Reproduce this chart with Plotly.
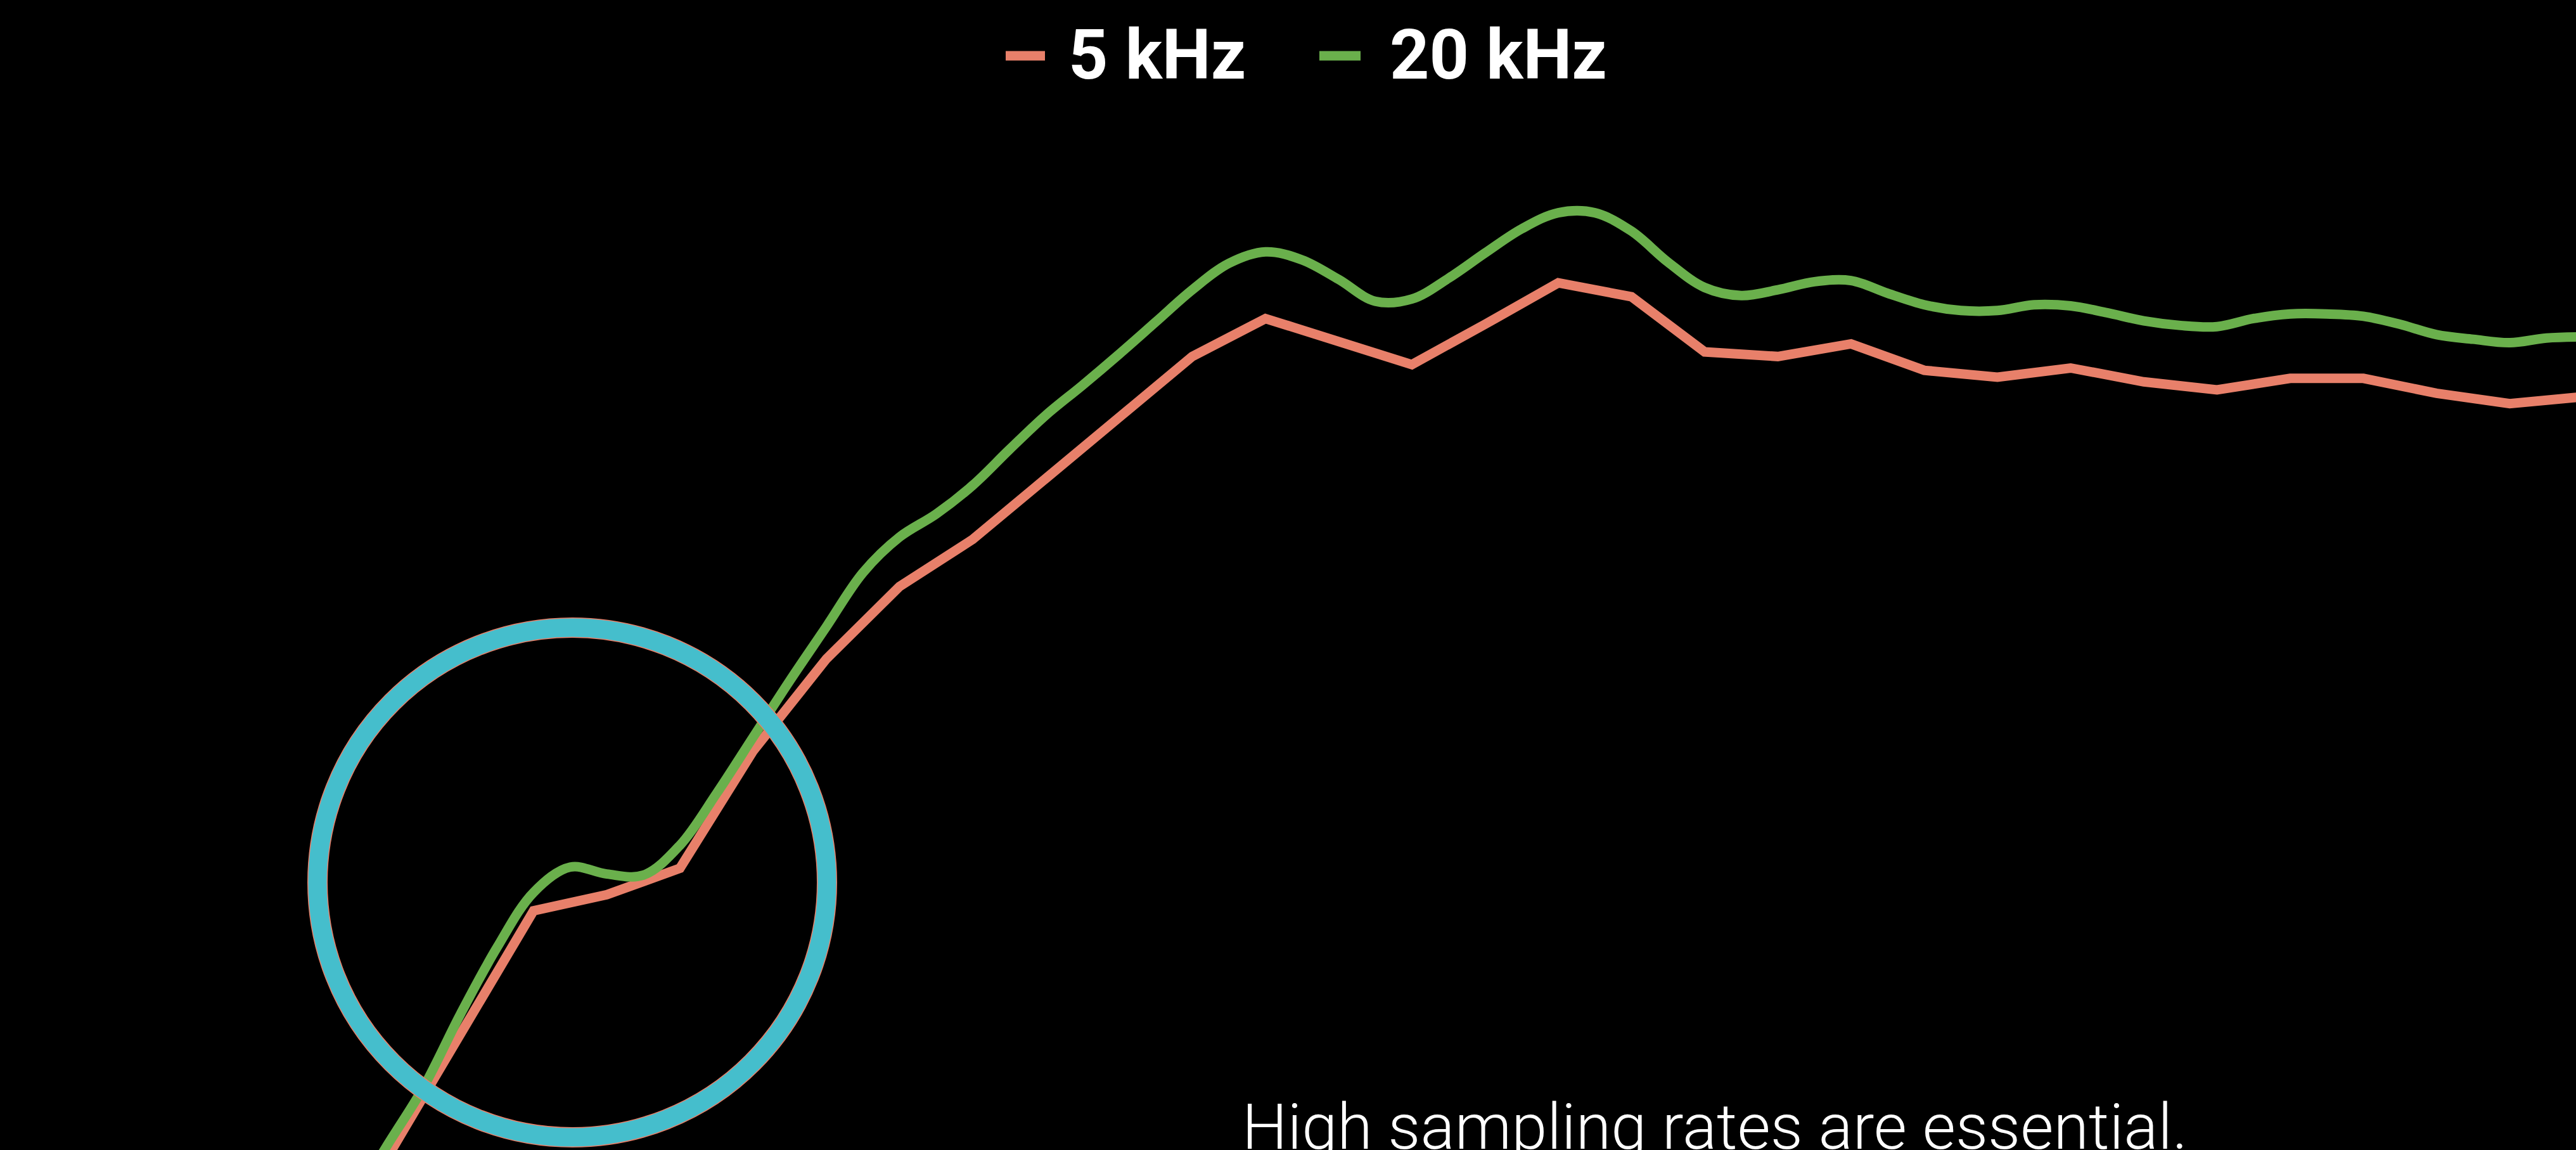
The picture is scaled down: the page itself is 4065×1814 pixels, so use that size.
import plotly.graph_objects as go

# ---- data (time in ms, amplitude in arbitrary units) ----
t_5k = [-0.6, -0.4, -0.2, 0.0, 0.2, 0.4, 0.6, 0.8, 1.0, 1.2, 1.4, 1.6, 1.8, 2.0,
        2.2, 2.4, 2.6, 2.8, 3.0, 3.2, 3.4, 3.6, 3.8, 4.0, 4.2, 4.4, 4.6, 4.8,
        5.0, 5.2, 5.4, 5.6]
y_5k = [-11.4, -0.7, 10.0, 20.8, 22.2, 24.5, 34.7, 42.7, 49.0, 53.1, 58.4, 63.7,
        69.0, 72.3, 70.3, 68.3, 71.8, 75.4, 74.2, 69.4, 69.0, 70.1, 67.8, 67.2,
        68.0, 66.8, 66.1, 67.1, 67.1, 65.8, 64.9, 65.5]

t_20k = [-0.6, -0.5, -0.4, -0.3, -0.2, -0.1, 0.0, 0.1, 0.2, 0.3, 0.4, 0.5, 0.6,
         0.7, 0.8, 0.9, 1.0, 1.1, 1.2, 1.3, 1.4, 1.5, 1.6, 1.7, 1.8, 1.9, 2.0,
         2.1, 2.2, 2.3, 2.4, 2.5, 2.6, 2.7, 2.8, 2.9, 3.0, 3.1, 3.2, 3.3, 3.4,
         3.5, 3.6, 3.7, 3.8, 3.9, 4.0, 4.1, 4.2, 4.3, 4.4, 4.5, 4.6, 4.7, 4.8,
         4.9, 5.0, 5.1, 5.2, 5.3, 5.4, 5.5, 5.6]
y_20k = [-10.0, -4.8, 0.4, 5.5, 11.8, 17.6, 22.4, 24.6, 24.0, 23.9, 26.5, 31.0,
         35.9, 40.8, 45.5, 50.2, 53.3, 55.3, 57.8, 60.9, 63.9, 66.5, 69.2, 72.0,
         74.8, 77.1, 78.1, 77.4, 75.7, 73.8, 74.0, 75.8, 78.0, 80.1, 81.5, 81.5,
         79.9, 77.2, 75.0, 74.3, 74.8, 75.5, 75.6, 74.5, 73.5, 73.0, 73.0, 73.5,
         73.4, 72.8, 72.1, 71.7, 71.6, 72.3, 72.7, 72.7, 72.5, 71.8, 70.9, 70.5,
         70.2, 70.6, 70.7]

series_names = ["5 kHz", "20 kHz"]
caption = "High sampling rates are essential."

# ---- styles ----
C_5K = "#E8806A"
C_20K = "#6AB04C"
C_RING = "#45BECC"
W, H = 4065, 1814

fig = go.Figure()
fig.add_trace(go.Scatter(x=t_5k, y=y_5k, mode="lines", name=series_names[0],
                         line=dict(color=C_5K, width=15, shape="linear"),
                         showlegend=False, hoverinfo="skip"))
fig.add_trace(go.Scatter(x=t_20k, y=y_20k, mode="lines", name=series_names[1],
                         line=dict(color=C_20K, width=15, shape="spline", smoothing=1.0),
                         showlegend=False, hoverinfo="skip"))

# highlight ring (paper coords converted from pixel geometry)
cx, cy, r = 903, 1392, 402
ring = dict(xref="paper", yref="paper", type="circle",
            x0=(cx - r) / W, x1=(cx + r) / W,
            y0=1 - (cy + r) / H, y1=1 - (cy - r) / H, fillcolor="rgba(0,0,0,0)")
fig.add_shape(**ring, line=dict(color=C_5K, width=32))
fig.add_shape(**ring, line=dict(color=C_RING, width=29))

# legend-like header: colour keys + bold labels
legend_font = dict(family="Roboto", size=109, color="white", weight=700)
key_y = 1 - 88 / H
for (kx0, kx1), col in zip([(1587, 1649), (2082, 2147)], [C_5K, C_20K]):
    fig.add_shape(type="line", xref="paper", yref="paper",
                  x0=kx0 / W, x1=kx1 / W, y0=key_y, y1=key_y,
                  line=dict(color=col, width=15))
for right_px, name in zip([1968, 2538], series_names):
    fig.add_annotation(xref="paper", yref="paper", x=right_px / W, y=1 - 87 / H,
                       xanchor="right", yanchor="middle", showarrow=False,
                       text=name, font=legend_font)

# caption (cut at bottom edge like the reference)
fig.add_annotation(xref="paper", yref="paper", x=1958 / W, y=1 - 1777 / H,
                   xanchor="left", yanchor="middle", showarrow=False,
                   text=caption,
                   font=dict(family="Roboto", size=101, color="white", weight=300))

fig.update_layout(
    width=W, height=H,
    margin=dict(l=0, r=0, t=0, b=0, pad=0),
    paper_bgcolor="black", plot_bgcolor="black",
    xaxis=dict(range=[-1.458, 5.581], visible=False, showgrid=False, zeroline=False),
    yaxis=dict(range=[0, 100], visible=False, showgrid=False, zeroline=False),
    showlegend=False,
)

fig.write_html("out.html", config={"displayModeBar": False},
               post_script="document.body.style.margin='0';document.body.style.background='black';document.body.style.overflow='hidden';")
